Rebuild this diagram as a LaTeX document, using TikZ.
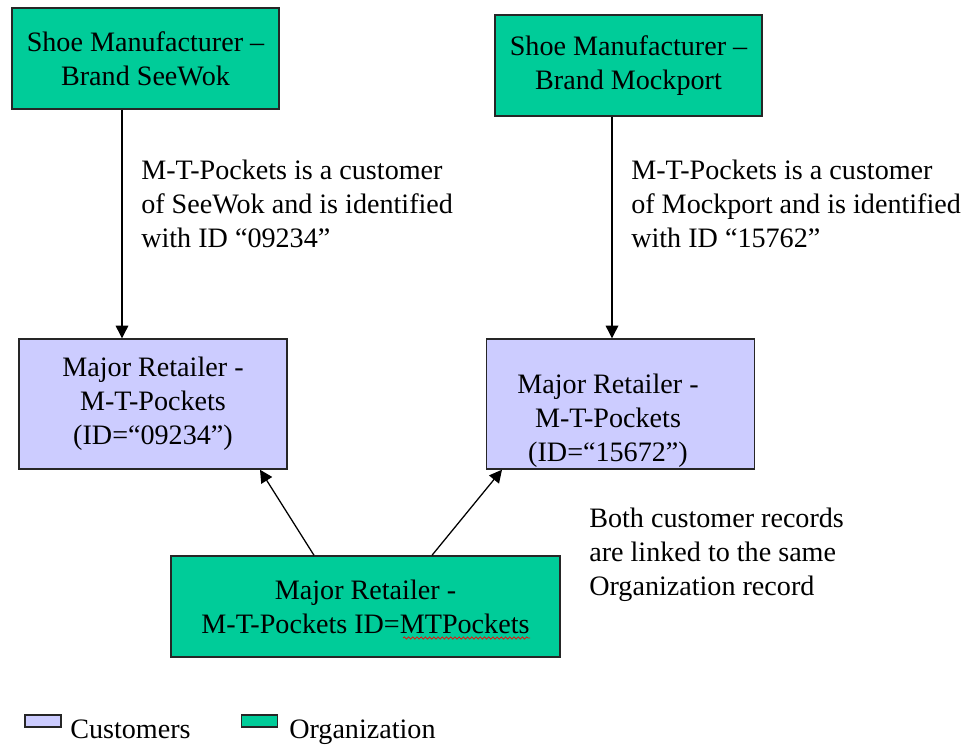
\documentclass[tikz,border=0pt]{standalone}
\usepackage{fontspec}
\setmainfont{Liberation Serif}
\usetikzlibrary{arrows.meta,decorations.pathmorphing}
\definecolor{orggreen}{RGB}{0,204,153}
\definecolor{custblue}{RGB}{204,204,255}

\begin{document}
\begin{tikzpicture}[x=0.025cm, y=-0.025cm,
    every node/.style={font=\fontsize{20}{24.2}\selectfont, inner sep=0pt},
    org/.style={draw=black!85, line width=1pt, fill=orggreen, align=center, minimum width=6.675cm, minimum height=2.525cm},
    cust/.style={draw=black!85, line width=1pt, fill=custblue, align=center, minimum width=6.7cm, minimum height=3.25cm},
    legbox/.style={draw=black!85, line width=1pt, minimum width=0.9cm, minimum height=0.3cm},
    note/.style={align=left, anchor=north west},
    arr/.style={-{Triangle[length=9pt,width=9pt]}, line width=0.9pt}]
    \useasboundingbox (0,0) rectangle (979,745);
    % manufacturers
    \node[org] (sw) at (145.5,58.5) {Shoe Manufacturer –\\Brand SeeWok};
    \node[org] (mp) at (628.5,65.5) {Shoe Manufacturer –\\Brand Mockport};
    % customer records
    \node[cust] (retl) at (153,404) {Major Retailer -\\M-T-Pockets\\(ID=“09234”)};
    \node[cust] (retr) at (620.5,404) {};
    \node[align=center] (retrtxt) at (608,421) {Major Retailer -\\M-T-Pockets\\(ID=“15672”)};
    % organization record
    \node[org, minimum width=9.725cm] (mtp) at (365.5,606.5) {Major Retailer -\\M-T-Pockets ID=MTPockets};
    \draw[red, line width=0.5pt, decorate, decoration={snake,amplitude=0.8pt,segment length=3pt}] (403,638) -- (530,638);
    % notes
    \node[note] (n1) at (141,160) {M-T-Pockets is a customer\\of SeeWok and is identified\\with ID “09234”};
    \node[note] (n2) at (631,160) {M-T-Pockets is a customer\\of Mockport and is identified\\with ID “15762”};
    \node[note] (n3) at (589,508) {Both customer records\\are linked to the same\\Organization record};
    % links
    \draw[arr] (sw.south -| 122,0) -- (retl.north -| 122,0);
    \draw[arr] (mp.south -| 612,0) -- (retr.north -| 612,0);
    \draw[arr] (mtp.north -| 314,0) -- (retl.south -| 260,0);
    \draw[arr] (mtp.north -| 432,0) -- (retr.south -| 502,0);
    % legend
    \node[legbox, fill=custblue] (legc) at (43,721) {};
    \node[anchor=base west] (legctxt) at (70,738) {Customers};
    \node[legbox, fill=orggreen] (lego) at (259.5,721) {};
    \node[anchor=base west] (legotxt) at (289,738) {Organization};
\end{tikzpicture}
\end{document}
